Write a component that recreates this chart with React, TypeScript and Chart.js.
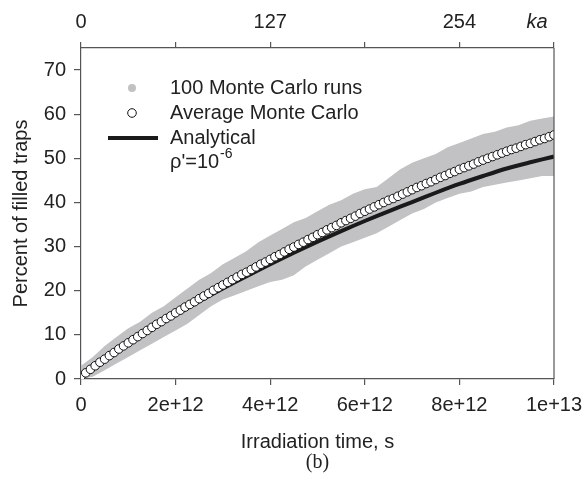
import React, { useEffect, useRef } from "react";
import { Chart, registerables } from "chart.js";

Chart.register(...registerables);

// ---------------- data ----------------
const X_MAX = 1e13;
const Y_MAX = 75;

const xTickValues = [0, 2e12, 4e12, 6e12, 8e12, 1e13];
const xTickLabels = ["0", "2e+12", "4e+12", "6e+12", "8e+12", "1e+13"];
const topTickValues = [0, 2e12, 4e12, 6e12, 8e12, 1e13];
const topTickLabels = ["0", "", "127", "", "254", ""];
const topUnitLabel = "ka";
const yTickValues = [0, 10, 20, 30, 40, 50, 60, 70];

const xTitle = "Irradiation time, s";
const yTitle = "Percent of filled traps";
const panelLabel = "(b)";
const legendRuns = "100 Monte Carlo runs";
const legendAvg = "Average Monte Carlo";
const legendAnalytic = "Analytical";
const legendRho = "ρ'=10";
const legendRhoExp = "-6";

// Average Monte Carlo: one value every 1e11 s
const avgStep = 1e11;
const avgValues = [
  0.6, 1.4, 2.2, 3.0, 3.8, 4.5, 5.3, 6.0, 6.8, 7.5,
  8.2, 8.9, 9.6, 10.3, 11.0, 11.7, 12.4, 13.0, 13.7, 14.3,
  15.0, 15.6, 16.3, 16.9, 17.5, 18.2, 18.8, 19.4, 20.1, 20.7,
  21.3, 21.9, 22.5, 23.1, 23.7, 24.2, 24.8, 25.4, 26.0, 26.5,
  27.1, 27.7, 28.2, 28.8, 29.4, 29.9, 30.5, 31.0, 31.6, 32.1,
  32.7, 33.2, 33.8, 34.3, 34.8, 35.4, 35.9, 36.4, 36.9, 37.5,
  38.0, 38.5, 39.0, 39.5, 40.0, 40.5, 40.9, 41.4, 41.9, 42.4,
  42.9, 43.4, 43.8, 44.3, 44.7, 45.2, 45.7, 46.1, 46.6, 47.0,
  47.5, 47.9, 48.3, 48.7, 49.2, 49.6, 50.0, 50.4, 50.8, 51.2,
  51.6, 52.0, 52.3, 52.7, 53.1, 53.4, 53.8, 54.2, 54.5, 54.9,
  55.3,
];

// Analytical curve (time in units of 1e12 s)
const analyticTime = [0, 0.5, 1, 1.5, 2, 2.5, 3, 3.5, 4, 4.5, 5, 5.5, 6, 6.5, 7, 7.5, 8, 8.5, 9, 9.5, 10];
const analyticValues = [1.0, 4.6, 8.0, 11.3, 14.5, 17.6, 20.5, 23.3, 26.0, 28.6, 31.1, 33.5, 35.8, 38.0, 40.1, 42.2, 44.2, 46.0, 47.7, 49.1, 50.4];

// Envelope of the 100 Monte Carlo runs (time in units of 1e12 s)
const bandTime = [
  0, 0.25, 0.5, 0.75, 1, 1.25, 1.5, 1.75, 2, 2.25, 2.5, 2.75, 3, 3.25, 3.5, 3.75, 4, 4.25, 4.5, 4.75,
  5, 5.25, 5.5, 5.75, 6, 6.25, 6.5, 6.75, 7, 7.25, 7.5, 7.75, 8, 8.25, 8.5, 8.75, 9, 9.25, 9.5, 9.75, 10,
];
const bandUpper = [
  3.0, 5.0, 7.5, 9.5, 11.5, 13.0, 15.0, 16.5, 18.5, 20.5, 22.5, 24.0, 26.0, 27.5, 29.0, 31.0, 32.5, 34.0, 35.5, 36.5,
  38.0, 39.5, 40.5, 42.0, 43.0, 43.5, 45.5, 47.5, 49.0, 50.0, 51.0, 52.5, 53.5, 54.5, 55.5, 56.0, 57.0, 57.5, 58.5, 59.0, 59.5,
];
const bandLower = [
  0.0, 0.5, 2.0, 3.5, 5.0, 6.5, 8.0, 9.5, 11.0, 12.5, 14.5, 16.5, 18.0, 19.0, 20.0, 21.0, 22.0, 22.5, 23.5, 25.5,
  27.0, 28.5, 30.0, 31.0, 32.0, 33.0, 34.5, 36.0, 37.5, 38.5, 40.0, 41.0, 42.0, 42.5, 43.5, 44.0, 44.5, 45.0, 45.5, 46.0, 46.0,
];

// ---------------- styles ----------------
const SANS = '"Liberation Sans", Arial, Helvetica, sans-serif';
const SERIF = '"Liberation Serif", "DejaVu Serif", serif';
const TEXT = "#222222";
const AXIS = "#555555";
const BAND = "#c2c2c5";
const LINE = "#1a1a1a";

const pts = (t: number[], v: number[], scale: number) => t.map((x, i) => ({ x: x * scale, y: v[i] }));

const overlay = {
  id: "overlay",
  afterDraw(chart: any) {
    const { ctx, chartArea: a, scales } = chart;
    ctx.save();
    ctx.strokeStyle = AXIS;
    ctx.lineWidth = 1.2;
    ctx.beginPath();
    ctx.moveTo(a.right, a.top);
    ctx.lineTo(a.right, a.bottom);
    ctx.stroke();

    ctx.fillStyle = TEXT;
    ctx.textAlign = "center";
    ctx.textBaseline = "middle";
    ctx.font = `italic 20px ${SANS}`;
    ctx.fillText(topUnitLabel, scales.x.getPixelForValue(X_MAX) - 17, 22);

    ctx.font = `20px ${SERIF}`;
    ctx.fillText(panelLabel, (a.left + a.right) / 2, 463);

    // legend
    const sx = 132;
    const tx = 170;
    const rows = [88, 113, 138, 162];
    ctx.fillStyle = BAND;
    ctx.beginPath();
    ctx.arc(sx, rows[0], 4, 0, Math.PI * 2);
    ctx.fill();
    ctx.fillStyle = "#ffffff";
    ctx.strokeStyle = "#111111";
    ctx.lineWidth = 1;
    ctx.beginPath();
    ctx.arc(sx, rows[1], 4.3, 0, Math.PI * 2);
    ctx.fill();
    ctx.stroke();
    ctx.strokeStyle = LINE;
    ctx.lineWidth = 4;
    ctx.beginPath();
    ctx.moveTo(108, rows[2]);
    ctx.lineTo(158, rows[2]);
    ctx.stroke();

    ctx.fillStyle = TEXT;
    ctx.textAlign = "left";
    ctx.font = `20px ${SANS}`;
    ctx.fillText(legendRuns, tx, rows[0]);
    ctx.fillText(legendAvg, tx, rows[1]);
    ctx.fillText(legendAnalytic, tx, rows[2]);
    ctx.fillText(legendRho, tx, rows[3]);
    const w = ctx.measureText(legendRho).width;
    ctx.font = `14px ${SANS}`;
    ctx.fillText(legendRhoExp, tx + w + 1, rows[3] - 8);
    ctx.restore();
  },
};

export default function App() {
  const ref = useRef<HTMLCanvasElement | null>(null);

  useEffect(() => {
    if (!ref.current) return;
    const tickFont = { family: SANS, size: 20 };
    const avgPts = avgValues.map((v, i) => ({ x: i * avgStep, y: v }));
    const chart = new Chart(ref.current, {
      type: "line",
      data: {
        datasets: [
          {
            label: legendAvg,
            data: avgPts,
            showLine: false,
            pointRadius: 4.3,
            pointBackgroundColor: "#ffffff",
            pointBorderColor: "#111111",
            pointBorderWidth: 1,
          },
          {
            label: legendAnalytic,
            data: pts(analyticTime, analyticValues, 1e12),
            borderColor: LINE,
            borderWidth: 4,
            pointRadius: 0,
            tension: 0.3,
            fill: false,
          },
          {
            label: "lower",
            data: pts(bandTime, bandLower, 1e12),
            borderWidth: 0,
            borderColor: BAND,
            pointRadius: 0,
            fill: false,
          },
          {
            label: legendRuns,
            data: pts(bandTime, bandUpper, 1e12),
            borderWidth: 0,
            borderColor: BAND,
            backgroundColor: BAND,
            pointRadius: 0,
            fill: "-1",
          },
        ],
      } as any,
      options: {
        animation: false,
        responsive: false,
        layout: { padding: { left: 0, right: 31, top: 0, bottom: 0 } },
        plugins: { legend: { display: false }, tooltip: { enabled: false }, title: { display: false } },
        scales: {
          x: {
            type: "linear",
            position: "bottom",
            min: 0,
            max: X_MAX,
            afterBuildTicks: (s: any) => {
              s.ticks = xTickValues.map((v) => ({ value: v }));
            },
            afterFit: (s: any) => {
              s.height = 99;
              s.paddingLeft = 0;
              s.paddingRight = 0;
            },
            ticks: {
              autoSkip: false,
              maxRotation: 0,
              padding: 8,
              color: TEXT,
              font: tickFont,
              callback: (v: any) => xTickLabels[xTickValues.indexOf(Number(v))] ?? "",
            },
            grid: { drawOnChartArea: false, tickLength: 6, color: AXIS, lineWidth: 1.2 },
            border: { color: AXIS, width: 1.2 },
            title: { display: true, text: xTitle, color: TEXT, font: tickFont, padding: { top: 0, bottom: 24 } },
          },
          x2: {
            type: "linear",
            position: "top",
            min: 0,
            max: X_MAX,
            afterBuildTicks: (s: any) => {
              s.ticks = topTickValues.map((v) => ({ value: v }));
            },
            afterFit: (s: any) => {
              s.height = 48;
              s.paddingLeft = 0;
              s.paddingRight = 0;
            },
            ticks: {
              autoSkip: false,
              maxRotation: 0,
              padding: 8,
              color: TEXT,
              font: tickFont,
              callback: (v: any) => topTickLabels[topTickValues.indexOf(Number(v))] ?? "",
            },
            grid: { drawOnChartArea: false, tickLength: 6, color: AXIS, lineWidth: 1.2 },
            border: { color: AXIS, width: 1.2 },
          },
          y: {
            type: "linear",
            position: "left",
            min: 0,
            max: Y_MAX,
            afterBuildTicks: (s: any) => {
              s.ticks = yTickValues.map((v) => ({ value: v }));
            },
            afterFit: (s: any) => {
              s.width = 81;
              s.paddingTop = 0;
              s.paddingBottom = 0;
            },
            ticks: { padding: 8, color: TEXT, font: tickFont, autoSkip: false },
            grid: { drawOnChartArea: false, tickLength: 7, color: AXIS, lineWidth: 1.2 },
            border: { color: AXIS, width: 1.2 },
            title: { display: true, text: yTitle, color: TEXT, font: tickFont, padding: { top: 9, bottom: 0 } },
          },
        },
      } as any,
      plugins: [overlay],
    });
    return () => chart.destroy();
  }, []);

  return (
    <div style={{ position: "fixed", left: 0, top: 0, width: 585, height: 478, background: "#ffffff" }}>
      <canvas ref={ref} width={585} height={478} style={{ display: "block" }} />
    </div>
  );
}
